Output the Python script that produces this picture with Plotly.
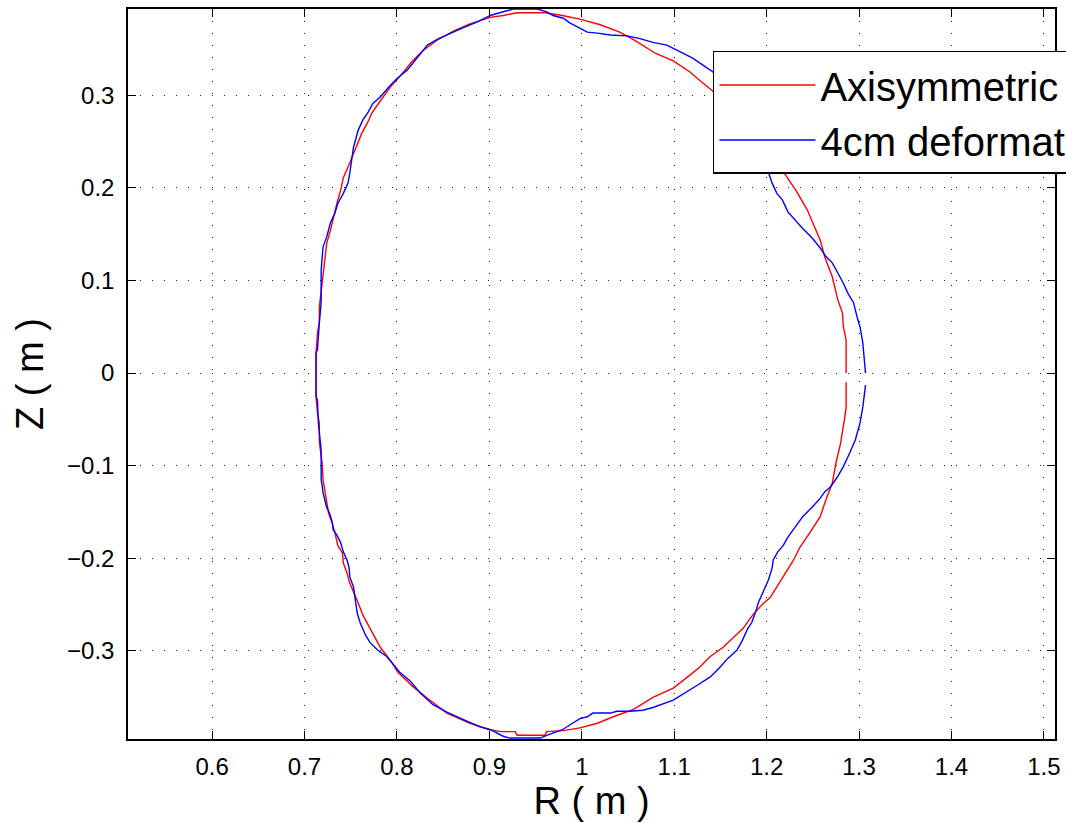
import plotly.graph_objects as go

# ---- data (R, Z in metres) ----
red_R = [1.286, 1.286, 1.284, 1.283, 1.280, 1.275, 1.271, 1.264, 1.258, 1.247,
         1.236, 1.229, 1.220, 1.211, 1.204, 1.195, 1.185, 1.175, 1.164, 1.153,
         1.139, 1.128, 1.117, 1.099, 1.077, 1.056, 1.034, 1.017, 0.998, 0.980,
         0.962, 0.960, 0.930, 0.928, 0.912, 0.901, 0.879, 0.854, 0.833, 0.818,
         0.801, 0.795, 0.782, 0.776, 0.769, 0.763, 0.758, 0.753, 0.749, 0.746,
         0.742, 0.741, 0.736, 0.733, 0.730, 0.726, 0.724, 0.722, 0.720, 0.719,
         0.716, 0.716, 0.714, 0.7125, 0.7125, 0.714, 0.716, 0.716, 0.719, 0.720,
         0.722, 0.724, 0.728, 0.731, 0.735, 0.739, 0.742, 0.749, 0.753, 0.757,
         0.762, 0.768, 0.773, 0.780, 0.785, 0.793, 0.803, 0.816, 0.828, 0.843,
         0.861, 0.879, 0.901, 0.915, 0.930, 0.960, 0.979, 0.998, 1.020, 1.041,
         1.056, 1.080, 1.099, 1.117, 1.130, 1.141, 1.177, 1.198, 1.215, 1.233,
         1.244, 1.250, 1.258, 1.263, 1.271, 1.277, 1.282, 1.283, 1.286, 1.286]
red_Z = [-0.010, -0.037, -0.051, -0.058, -0.076, -0.097, -0.119, -0.137, -0.155, -0.172,
         -0.188, -0.202, -0.216, -0.231, -0.242, -0.250, -0.261, -0.275, -0.285, -0.296,
         -0.306, -0.317, -0.326, -0.340, -0.350, -0.363, -0.371, -0.378, -0.383, -0.386,
         -0.387, -0.391, -0.391, -0.387, -0.387, -0.385, -0.378, -0.367, -0.351, -0.339,
         -0.323, -0.313, -0.296, -0.285, -0.272, -0.261, -0.248, -0.237, -0.227, -0.216,
         -0.205, -0.194, -0.186, -0.173, -0.162, -0.151, -0.140, -0.129, -0.115, -0.097,
         -0.074, -0.054, -0.043, -0.026, 0.022, 0.043, 0.055, 0.071, 0.097, 0.111,
         0.125, 0.140, 0.154, 0.168, 0.183, 0.197, 0.211, 0.227, 0.237, 0.248,
         0.259, 0.270, 0.281, 0.291, 0.298, 0.309, 0.320, 0.336, 0.348, 0.359,
         0.369, 0.377, 0.384, 0.386, 0.389, 0.389, 0.386, 0.382, 0.376, 0.368,
         0.360, 0.345, 0.337, 0.325, 0.314, 0.305, 0.271, 0.243, 0.222, 0.195,
         0.176, 0.162, 0.1435, 0.125, 0.104, 0.079, 0.065, 0.050, 0.036, 0.0]

blue_R = [1.307, 1.304, 1.301, 1.296, 1.290, 1.283, 1.276, 1.269, 1.263, 1.258,
          1.249, 1.239, 1.231, 1.223, 1.218, 1.212, 1.207, 1.206, 1.202, 1.196,
          1.191, 1.188, 1.184, 1.179, 1.174, 1.168, 1.158, 1.150, 1.139, 1.125,
          1.114, 1.099, 1.077, 1.066, 1.052, 1.038, 1.031, 1.012, 1.006, 0.998,
          0.990, 0.979, 0.962, 0.955, 0.922, 0.915, 0.901, 0.890, 0.872, 0.854,
          0.839, 0.825, 0.814, 0.803, 0.789, 0.779, 0.771, 0.766, 0.760, 0.757,
          0.755, 0.753, 0.749, 0.748, 0.746, 0.742, 0.739, 0.735, 0.731, 0.730,
          0.727, 0.724, 0.722, 0.720, 0.719, 0.718, 0.718, 0.715, 0.714, 0.7125,
          0.7125, 0.714, 0.716, 0.718, 0.718, 0.719, 0.720, 0.724, 0.728, 0.733,
          0.736, 0.742, 0.747, 0.749, 0.751, 0.753, 0.755, 0.758, 0.763, 0.769,
          0.774, 0.782, 0.790, 0.800, 0.811, 0.822, 0.833, 0.845, 0.858, 0.872,
          0.887, 0.901, 0.915, 0.926, 0.952, 0.962, 0.969, 0.980, 0.987, 0.998,
          1.006, 1.017, 1.031, 1.049, 1.063, 1.077, 1.092, 1.106, 1.120, 1.133,
          1.142, 1.171, 1.190, 1.200, 1.206, 1.211, 1.217, 1.223, 1.231, 1.239,
          1.249, 1.258, 1.264, 1.271, 1.277, 1.283, 1.288, 1.294, 1.298, 1.301,
          1.304, 1.3055, 1.307]
blue_Z = [-0.013, -0.037, -0.054, -0.072, -0.086, -0.101, -0.113, -0.123, -0.128, -0.135,
          -0.145, -0.155, -0.166, -0.177, -0.186, -0.193, -0.202, -0.210, -0.223, -0.236,
          -0.248, -0.258, -0.269, -0.277, -0.288, -0.299, -0.308, -0.317, -0.328, -0.337,
          -0.344, -0.353, -0.361, -0.364, -0.365, -0.365, -0.367, -0.367, -0.371, -0.373,
          -0.378, -0.385, -0.391, -0.394, -0.394, -0.392, -0.385, -0.382, -0.374, -0.366,
          -0.358, -0.345, -0.332, -0.323, -0.306, -0.299, -0.291, -0.283, -0.269, -0.259,
          -0.245, -0.231, -0.220, -0.209, -0.202, -0.193, -0.183, -0.175, -0.169, -0.161,
          -0.151, -0.145, -0.137, -0.129, -0.121, -0.115, -0.083, -0.054, -0.029, -0.026,
          0.022, 0.025, 0.054, 0.076, 0.111, 0.122, 0.136, 0.147, 0.162, 0.173,
          0.183, 0.194, 0.205, 0.216, 0.230, 0.244, 0.251, 0.262, 0.273, 0.282,
          0.291, 0.298, 0.3075, 0.318, 0.327, 0.341, 0.354, 0.361, 0.367, 0.373,
          0.379, 0.386, 0.390, 0.393, 0.393, 0.390, 0.386, 0.383, 0.378, 0.372,
          0.368, 0.367, 0.365, 0.364, 0.361, 0.357, 0.354, 0.347, 0.340, 0.331,
          0.325, 0.289, 0.255, 0.222, 0.205, 0.194, 0.187, 0.174, 0.165, 0.156,
          0.146, 0.135, 0.126, 0.119, 0.108, 0.097, 0.086, 0.076, 0.060, 0.050,
          0.033, 0.017, 0.0]

series_names = ["Axisymmetric", "4cm deformation"]
x_ticks = [0.6, 0.7, 0.8, 0.9, 1.0, 1.1, 1.2, 1.3, 1.4, 1.5]
x_labels = ["0.6", "0.7", "0.8", "0.9", "1", "1.1", "1.2", "1.3", "1.4", "1.5"]
y_ticks = [-0.3, -0.2, -0.1, 0.0, 0.1, 0.2, 0.3]
y_labels = ["\u22120.3", "\u22120.2", "\u22120.1", "0", "0.1", "0.2", "0.3"]

FONT = "Liberation Sans, Arial, Helvetica, sans-serif"

fig = go.Figure()
fig.add_trace(go.Scatter(x=red_R, y=red_Z, mode="lines", name=series_names[0],
                         line=dict(color="#ff0000", width=1.4)))
fig.add_trace(go.Scatter(x=blue_R, y=blue_Z, mode="lines", name=series_names[1],
                         line=dict(color="#0000ff", width=1.4)))

axis_common = dict(
    showgrid=True, gridcolor="#222222", gridwidth=1.4, griddash="1.4px,10.6px",
    zeroline=False, showline=True, linecolor="black", linewidth=1.5,
    mirror="ticks", ticks="inside", ticklen=8, tickwidth=1.3, tickcolor="black",
    tickfont=dict(family=FONT, size=24, color="black"),
)

fig.update_layout(
    width=1066, height=823,
    paper_bgcolor="white", plot_bgcolor="white",
    margin=dict(l=128, r=11, t=9, b=84, autoexpand=False),
    font=dict(family=FONT, color="black"),
    xaxis=dict(range=[0.509, 1.512], tickvals=x_ticks, ticktext=x_labels,
               ticklabelstandoff=5,
               title=dict(text="R ( m )", font=dict(family=FONT, size=38, color="black"),
                          standoff=6),
               **axis_common),
    yaxis=dict(range=[-0.395, 0.393], tickvals=y_ticks, ticktext=y_labels,
               ticklabelstandoff=7,
               title=dict(text="Z ( m )", font=dict(family=FONT, size=38, color="black"),
                          standoff=12),
               **axis_common),
    legend=dict(x=0.631, y=0.9425, xanchor="left", yanchor="top",
                bgcolor="white", bordercolor="black", borderwidth=1.5,
                font=dict(family=FONT, size=40, color="black"),
                itemwidth=96, tracegroupgap=0),
    showlegend=True,
)

fig.write_html("out.html")
